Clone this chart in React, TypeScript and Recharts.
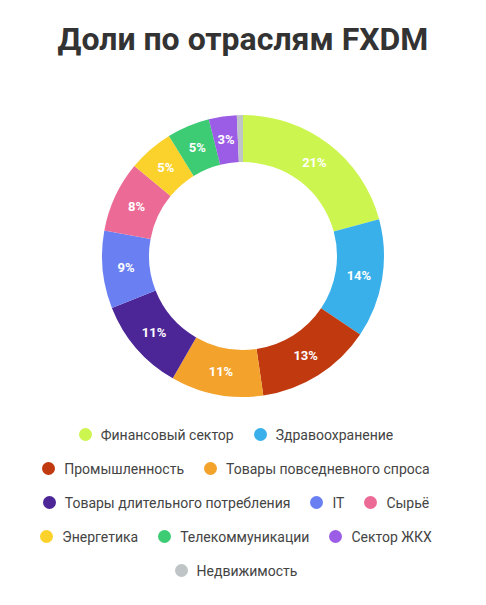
import React from 'react';
import { PieChart, Pie, Cell, Legend } from 'recharts';

// Доли по отраслям FXDM, % of fund
const sectors = [
  'Финансовый сектор',
  'Здравоохранение',
  'Промышленность',
  'Товары повседневного спроса',
  'Товары длительного потребления',
  'IT',
  'Сырьё',
  'Энергетика',
  'Телекоммуникации',
  'Сектор ЖКХ',
  'Недвижимость',
];
const shares = [20.8, 13.6, 13.3, 10.6, 10.7, 8.9, 8.1, 5.2, 4.9, 3.2, 0.7];
const COLORS = [
  '#cdf54f', '#39b0ea', '#c0390f', '#f3a32c', '#4c2597', '#6a80f2',
  '#ec6b96', '#fbd22c', '#3dcc74', '#9c5de6', '#bfc4c6',
];

const data = sectors.map((name, i) => ({ name, value: shares[i] }));

const RADIAN = Math.PI / 180;
const renderLabel = ({ cx, cy, midAngle, innerRadius, outerRadius, percent }: any) => {
  const pct = (Number(percent) || 0) * 100;
  if (pct < 1) return null;
  const r = innerRadius + (outerRadius - innerRadius) * 0.5;
  const x = cx + r * Math.cos(-midAngle * RADIAN);
  const y = cy + r * Math.sin(-midAngle * RADIAN);
  return (
    <text x={x} y={y} fill="#ffffff" textAnchor="middle" dominantBaseline="central"
      style={{ fontFamily: 'Roboto, sans-serif', fontSize: 13, fontWeight: 700 }}>
      {`${pct.toFixed(0)}%`}
    </text>
  );
};

// keep the data order (recharts 3 sorts legend payload by default)
const LegendContent = () => (
  <ul style={{
    display: 'flex', flexWrap: 'wrap', justifyContent: 'center', listStyle: 'none',
    margin: 0, padding: 0, rowGap: 15, columnGap: 20,
  }}>
    {data.map((entry, i) => (
      <li key={`leg-${i}`} style={{ display: 'flex', alignItems: 'center', height: 19 }}>
        <span style={{
          width: 13, height: 13, borderRadius: '50%', background: COLORS[i % COLORS.length],
          display: 'inline-block', marginRight: 9,
        }} />
        <span style={{ color: '#444', fontSize: 14 }}>{entry.name}</span>
      </li>
    ))}
  </ul>
);

export default function App() {
  return (
    <div style={{
      position: 'absolute', left: 0, top: 0, width: 486, height: 605, background: '#fff',
      fontFamily: 'Roboto, sans-serif',
    }}>
      <div style={{
        position: 'absolute', top: 16, left: 0, width: 486, textAlign: 'center',
        fontSize: 32, fontWeight: 700, color: '#333', lineHeight: '46px',
      }}>
        Доли по отраслям FXDM
      </div>
      <PieChart width={486} height={605} margin={{ top: 0, right: 0, bottom: 0, left: 0 }}
        style={{ position: 'absolute', left: 0, top: 0 }}>
        <Pie
          data={data}
          dataKey="value"
          nameKey="name"
          cx={243}
          cy={256}
          innerRadius={94}
          outerRadius={141}
          startAngle={90}
          endAngle={-270}
          stroke="none"
          labelLine={false}
          label={renderLabel}
          isAnimationActive={false}
        >
          {data.map((entry, index) => (
            <Cell key={`cell-${index}`} fill={COLORS[index % COLORS.length]} />
          ))}
        </Pie>
        <Legend
          content={<LegendContent />}
          wrapperStyle={{ top: 425, left: 40, width: 392 }}
        />
      </PieChart>
    </div>
  );
}
